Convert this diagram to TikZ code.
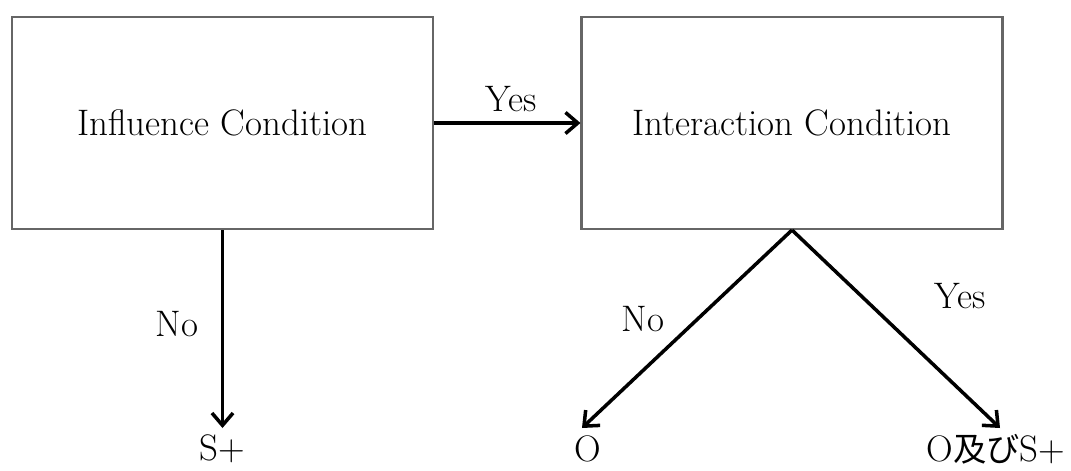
\documentclass[tikz,border=0pt]{standalone}
\usepackage{fontspec}
\newfontfamily\cjk[Scale=0.9]{Noto Sans CJK JP}
\usetikzlibrary{arrows.meta}
\begin{document}
\begin{tikzpicture}[x=0.02cm,y=-0.02cm]
\tikzstyle{every node}+=[inner sep=0pt,font=\fontsize{21}{25}\selectfont]
\tikzstyle{cond}=[draw=black!60,line width=1.2pt,minimum width=8.42cm,minimum height=4.24cm]
\tikzstyle{branch}=[line width=2pt,-{Straight Barb[length=7pt,width=12pt]}]
\useasboundingbox (0,0) rectangle (1071,470);

\node[cond] (infl) at (222.5,123) {Influence Condition};
\node[cond] (inter) at (792,123) {Interaction Condition};
\node (splus) at (222.5,449) {S+};
\node (o) at (588,449) {O};
\node (osplus) at (996,449) {O{\cjk 及び}S+};

\coordinate (splustip) at (222.5,428);
\coordinate (otip) at (582,428);
\coordinate (osplustip) at (1000,428);

\draw[branch] (infl) -- (inter);
\draw[branch] (infl) -- (splustip);
\draw[branch] (inter.south) -- (otip);
\draw[branch] (inter.south) -- (osplustip);

\draw (511,99) node {Yes};
\draw (177,324) node {No};
\draw (643,319) node {No};
\draw (960,296) node {Yes};

\end{tikzpicture}
\end{document}
